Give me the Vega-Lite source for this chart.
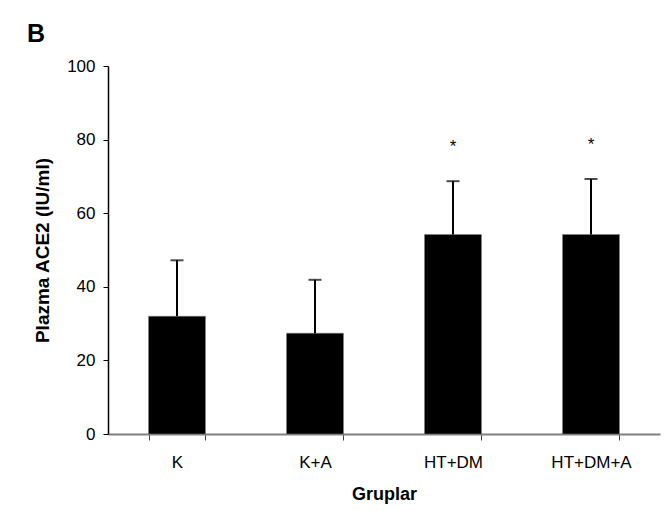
{
  "$schema": "https://vega.github.io/schema/vega-lite/v6.json",
  "autosize": "none",
  "width": 552,
  "height": 368,
  "padding": {"left": 108, "top": 66, "right": 6, "bottom": 77},
  "background": "white",
  "config": {
    "view": {"stroke": null},
    "font": "Liberation Sans"
  },
  "title": {
    "text": "B",
    "anchor": "start",
    "frame": "group",
    "fontSize": 25,
    "fontWeight": "bold",
    "color": "black",
    "baseline": "alphabetic",
    "offset": 23,
    "dx": -81,
    "dy": 33
  },
  "data": {
    "values": [
      {"group": "K", "mean": 32, "upper": 47.2, "sig": ""},
      {"group": "K+A", "mean": 27.4, "upper": 41.9, "sig": ""},
      {"group": "HT+DM", "mean": 54.2, "upper": 68.7, "sig": "*"},
      {"group": "HT+DM+A", "mean": 54.2, "upper": 69.3, "sig": "*"}
    ]
  },
  "encoding": {
    "x": {
      "field": "group",
      "type": "nominal",
      "sort": null,
      "scale": {"paddingInner": 0.587, "paddingOuter": 0.2935},
      "axis": {
        "title": "Gruplar",
        "titleFontSize": 18,
        "titleFontWeight": "bold",
        "titleColor": "black",
        "titlePadding": 15,
        "labelAngle": 0,
        "labelFontSize": 17,
        "labelColor": "black",
        "labelPadding": 14,
        "tickBand": "extent",
        "tickSize": 6,
        "tickColor": "#404040",
        "domainColor": "#808080",
        "domainWidth": 2,
        "grid": false
      }
    }
  },
  "layer": [
    {
      "mark": {"type": "bar", "color": "black", "stroke": "#808080", "strokeWidth": 0.5},
      "encoding": {
        "y": {
          "field": "mean",
          "type": "quantitative",
          "scale": {"domain": [0, 100], "nice": false},
          "axis": {
            "title": "Plazma ACE2 (IU/ml)",
            "titleFontSize": 19,
            "titleFontWeight": "bold",
            "titleColor": "black",
            "titlePadding": 14,
            "values": [0, 20, 40, 60, 80, 100],
            "labelFontSize": 17,
            "labelColor": "black",
            "labelPadding": 8,
            "tickSize": 5,
            "tickColor": "black",
            "domainColor": "black",
            "domainWidth": 1.5,
            "grid": false
          }
        }
      }
    },
    {
      "mark": {"type": "rule", "color": "black", "strokeWidth": 2},
      "encoding": {
        "y": {"field": "mean", "type": "quantitative"},
        "y2": {"field": "upper"}
      }
    },
    {
      "mark": {"type": "tick", "color": "black", "orient": "horizontal", "size": 13, "thickness": 2},
      "encoding": {
        "y": {"field": "upper", "type": "quantitative"}
      }
    },
    {
      "mark": {"type": "text", "fontSize": 17, "color": "black", "baseline": "middle", "dy": -34},
      "encoding": {
        "y": {"field": "upper", "type": "quantitative"},
        "text": {"field": "sig"}
      }
    }
  ]
}
